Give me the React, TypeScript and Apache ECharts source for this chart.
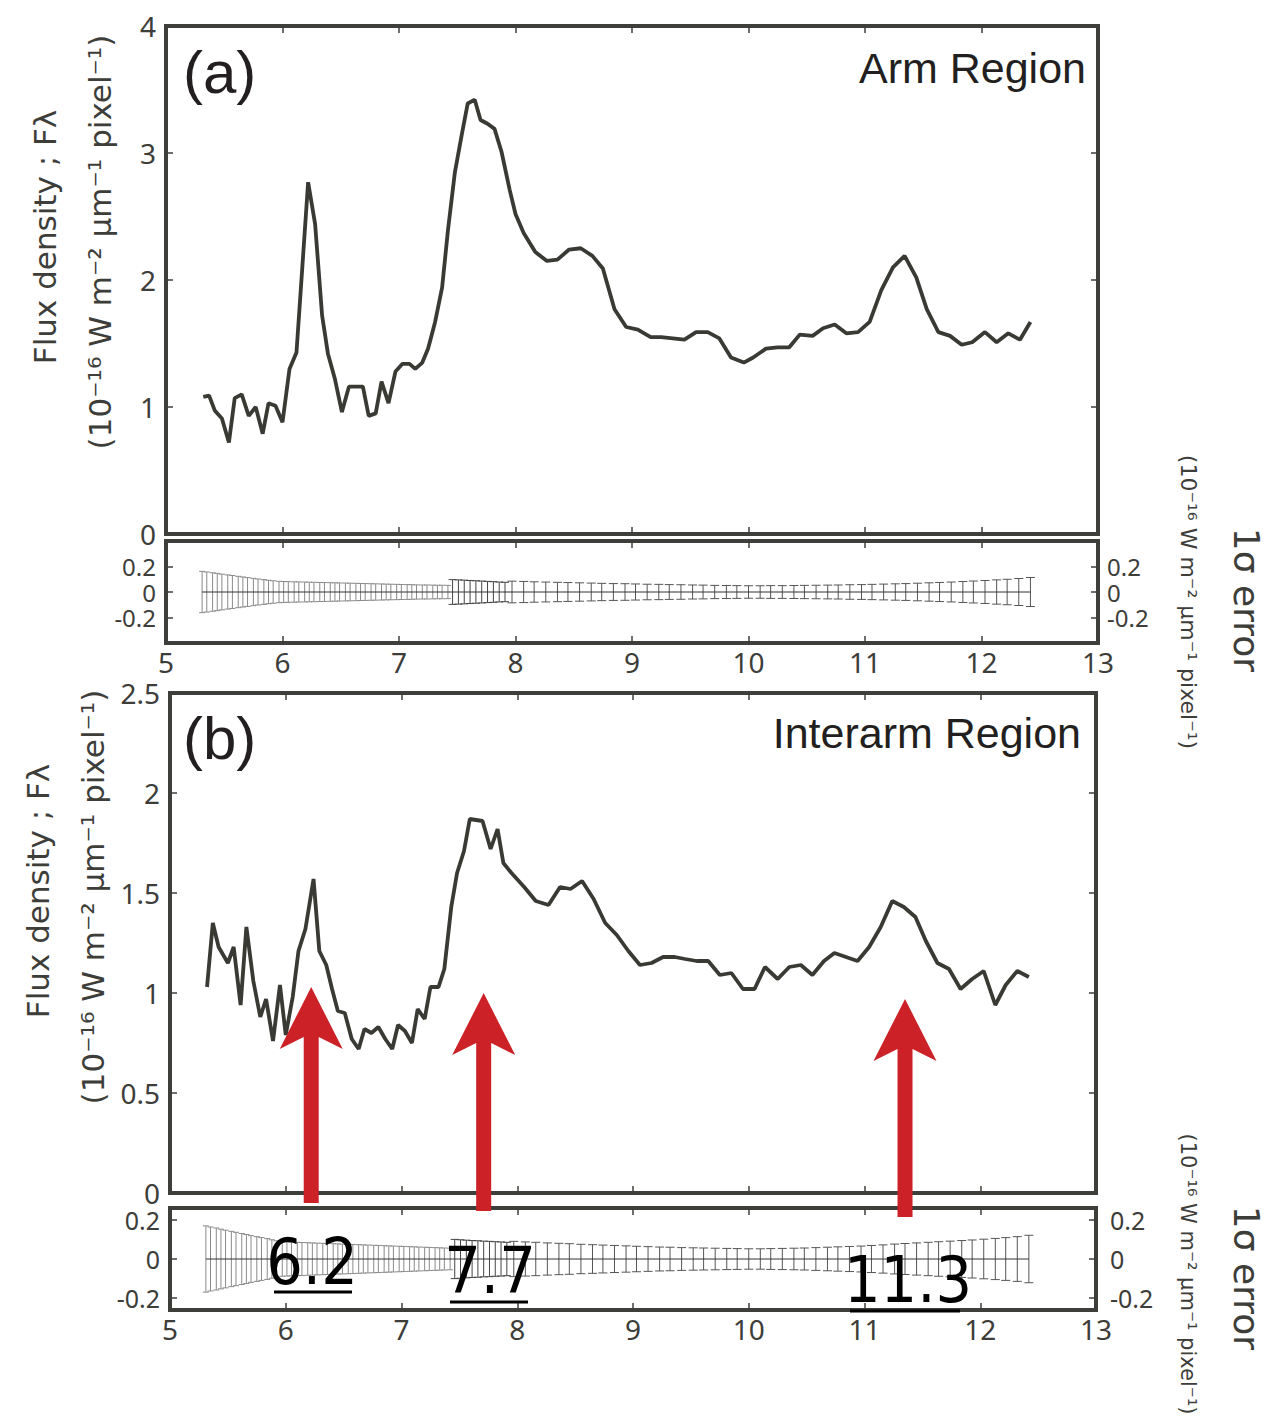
import React, { useEffect, useRef } from "react";
import * as echarts from "echarts";

// ---------- Data ----------
const armX = [5.32, 5.37, 5.42, 5.48, 5.54, 5.59, 5.65, 5.71, 5.77, 5.83, 5.88, 5.94, 6.0, 6.06, 6.12, 6.17, 6.22, 6.28, 6.34, 6.39, 6.45, 6.51, 6.57, 6.63, 6.69, 6.74, 6.8, 6.85, 6.91, 6.97, 7.03, 7.09, 7.14, 7.2, 7.25, 7.31, 7.37, 7.42, 7.48, 7.54, 7.59, 7.65, 7.7, 7.76, 7.82, 7.88, 7.95, 8.0, 8.07, 8.17, 8.27, 8.36, 8.46, 8.56, 8.66, 8.75, 8.85, 8.95, 9.05, 9.16, 9.25, 9.35, 9.45, 9.55, 9.65, 9.75, 9.85, 9.96, 10.04, 10.15, 10.25, 10.35, 10.44, 10.55, 10.64, 10.74, 10.84, 10.94, 11.04, 11.14, 11.24, 11.34, 11.44, 11.53, 11.63, 11.73, 11.83, 11.92, 12.03, 12.13, 12.23, 12.33, 12.42];
const armY = [1.08, 1.09, 0.97, 0.91, 0.72, 1.07, 1.1, 0.93, 1.0, 0.79, 1.03, 1.01, 0.88, 1.3, 1.43, 2.1, 2.77, 2.44, 1.72, 1.42, 1.22, 0.96, 1.16, 1.16, 1.16, 0.93, 0.95, 1.2, 1.03, 1.28, 1.34, 1.34, 1.3, 1.35, 1.46, 1.67, 1.94, 2.39, 2.85, 3.15, 3.39, 3.42, 3.26, 3.23, 3.19, 3.01, 2.71, 2.52, 2.37, 2.22, 2.15, 2.16, 2.24, 2.25, 2.19, 2.09, 1.77, 1.63, 1.61, 1.55, 1.55, 1.54, 1.53, 1.59, 1.59, 1.54, 1.39, 1.35, 1.39, 1.46, 1.47, 1.47, 1.57, 1.56, 1.62, 1.65, 1.58, 1.59, 1.67, 1.92, 2.1, 2.19, 2.02, 1.77, 1.59, 1.56, 1.49, 1.51, 1.59, 1.51, 1.58, 1.53, 1.67];

const interX = [5.32, 5.37, 5.42, 5.5, 5.55, 5.61, 5.66, 5.72, 5.78, 5.83, 5.89, 5.95, 6.0, 6.06, 6.11, 6.17, 6.24, 6.29, 6.35, 6.4, 6.45, 6.51, 6.57, 6.63, 6.68, 6.74, 6.8, 6.86, 6.92, 6.97, 7.03, 7.09, 7.14, 7.2, 7.25, 7.32, 7.37, 7.43, 7.48, 7.54, 7.59, 7.7, 7.77, 7.83, 7.88, 7.95, 8.06, 8.16, 8.27, 8.37, 8.46, 8.56, 8.66, 8.76, 8.86, 8.96, 9.06, 9.16, 9.26, 9.36, 9.45, 9.55, 9.65, 9.75, 9.85, 9.95, 10.05, 10.14, 10.25, 10.35, 10.45, 10.55, 10.65, 10.74, 10.84, 10.94, 11.04, 11.14, 11.24, 11.34, 11.44, 11.53, 11.63, 11.73, 11.83, 11.93, 12.03, 12.13, 12.22, 12.32, 12.42];
const interY = [1.03, 1.35, 1.23, 1.15, 1.23, 0.94, 1.33, 1.06, 0.88, 0.97, 0.76, 1.04, 0.79, 0.98, 1.21, 1.32, 1.57, 1.21, 1.14, 1.02, 0.91, 0.9, 0.77, 0.72, 0.82, 0.8, 0.83, 0.77, 0.72, 0.84, 0.81, 0.75, 0.92, 0.87, 1.03, 1.03, 1.12, 1.43, 1.6, 1.71, 1.87, 1.86, 1.72, 1.82, 1.65, 1.6, 1.53, 1.46, 1.44, 1.53, 1.52, 1.56, 1.47, 1.35, 1.29, 1.21, 1.14, 1.15, 1.18, 1.18, 1.17, 1.16, 1.16, 1.09, 1.1, 1.02, 1.02, 1.13, 1.07, 1.13, 1.14, 1.09, 1.16, 1.2, 1.18, 1.16, 1.23, 1.33, 1.46, 1.43, 1.38, 1.26, 1.15, 1.12, 1.02, 1.07, 1.11, 0.94, 1.04, 1.11, 1.08];

// error bars: short-wavelength dense group, middle group, long-wavelength group
const errDenseX = [5.31, 5.35, 5.4, 5.44, 5.48, 5.53, 5.57, 5.62, 5.66, 5.7, 5.75, 5.79, 5.84, 5.88, 5.92, 5.97, 6.01, 6.05, 6.1, 6.14, 6.19, 6.23, 6.27, 6.32, 6.36, 6.41, 6.45, 6.49, 6.54, 6.58, 6.63, 6.67, 6.71, 6.76, 6.8, 6.85, 6.89, 6.93, 6.98, 7.02, 7.07, 7.11, 7.15, 7.2, 7.24, 7.29, 7.33, 7.37, 7.42];
const errArmDense = [0.162, 0.157, 0.151, 0.146, 0.14, 0.134, 0.129, 0.123, 0.118, 0.113, 0.107, 0.102, 0.097, 0.092, 0.088, 0.084, 0.082, 0.081, 0.08, 0.079, 0.078, 0.077, 0.076, 0.075, 0.074, 0.073, 0.072, 0.071, 0.07, 0.069, 0.068, 0.067, 0.066, 0.065, 0.064, 0.063, 0.062, 0.061, 0.06, 0.059, 0.058, 0.057, 0.056, 0.055, 0.055, 0.054, 0.053, 0.053, 0.052];
const errInterDense = [0.169, 0.163, 0.158, 0.152, 0.147, 0.141, 0.136, 0.13, 0.125, 0.119, 0.114, 0.109, 0.104, 0.098, 0.093, 0.088, 0.087, 0.086, 0.085, 0.084, 0.083, 0.082, 0.081, 0.08, 0.079, 0.078, 0.077, 0.076, 0.075, 0.074, 0.073, 0.072, 0.071, 0.07, 0.069, 0.068, 0.067, 0.066, 0.065, 0.064, 0.063, 0.062, 0.061, 0.06, 0.059, 0.058, 0.057, 0.056, 0.055];

const errMidX = [7.46, 7.51, 7.56, 7.61, 7.66, 7.71, 7.76, 7.81, 7.86, 7.91];
const errArmMid = [0.097, 0.095, 0.093, 0.09, 0.088, 0.086, 0.083, 0.081, 0.078, 0.076];
const errInterMid = [0.1, 0.098, 0.096, 0.094, 0.093, 0.091, 0.09, 0.088, 0.087, 0.085];

const errLongX = [7.97, 8.07, 8.16, 8.26, 8.36, 8.45, 8.55, 8.65, 8.74, 8.84, 8.94, 9.03, 9.13, 9.23, 9.32, 9.42, 9.52, 9.61, 9.71, 9.81, 9.9, 10.0, 10.1, 10.19, 10.29, 10.39, 10.48, 10.58, 10.68, 10.77, 10.87, 10.97, 11.06, 11.16, 11.26, 11.35, 11.45, 11.55, 11.64, 11.74, 11.84, 11.93, 12.03, 12.13, 12.22, 12.32, 12.42];
const errArmLong = [0.085, 0.083, 0.08, 0.078, 0.076, 0.074, 0.072, 0.07, 0.068, 0.066, 0.065, 0.063, 0.061, 0.06, 0.058, 0.057, 0.055, 0.054, 0.052, 0.051, 0.05, 0.049, 0.049, 0.05, 0.05, 0.051, 0.052, 0.053, 0.054, 0.055, 0.057, 0.058, 0.06, 0.062, 0.064, 0.066, 0.069, 0.072, 0.075, 0.078, 0.082, 0.086, 0.09, 0.095, 0.1, 0.106, 0.114];
const errInterLong = [0.09, 0.087, 0.085, 0.082, 0.08, 0.078, 0.075, 0.073, 0.071, 0.069, 0.067, 0.065, 0.063, 0.061, 0.06, 0.058, 0.057, 0.056, 0.055, 0.054, 0.053, 0.052, 0.052, 0.053, 0.054, 0.055, 0.056, 0.058, 0.06, 0.062, 0.064, 0.066, 0.069, 0.072, 0.076, 0.079, 0.082, 0.085, 0.088, 0.091, 0.094, 0.097, 0.101, 0.105, 0.109, 0.114, 0.121];

// PAH feature arrows (wavelength, tip flux, base flux) and labels
const featureX = [6.22, 7.71, 11.35];
const featureTip = [1.03, 1.0, 0.97];
const featureBase = [-0.05, -0.09, -0.12];
const featureLabels = ["6.2", "7.7", "11.3"];

const errTicks = [-0.2, 0, 0.2];

// ---------- Styles ----------
const FRAME = "#3e3f3a";
const LINE = "#393a34";
const LABEL = "#3d3d3a";
const RED = "#cb2127";
const numFont = "'Noto Sans', 'DejaVu Sans', sans-serif";
const titleFont = "'DejaVu Sans', 'Noto Sans', sans-serif";
const helv = "'Liberation Sans', Arial, sans-serif";

const tick = { show: true, inside: true, length: 7, lineStyle: { color: FRAME, width: 1.5 } };
const noLine = { show: false, onZero: false };

function xAxes(grid: number, labels: boolean) {
  return [
    {
      type: "value", gridIndex: grid, min: 5, max: 13, interval: 1, position: "bottom",
      axisLine: noLine, axisTick: tick, splitLine: { show: false },
      axisLabel: { show: labels, fontSize: 28, color: LABEL, margin: 5, fontFamily: numFont },
    },
    {
      type: "value", gridIndex: grid, min: 5, max: 13, interval: 1, position: "top",
      axisLine: noLine, axisTick: tick, splitLine: { show: false },
      axisLabel: { show: false },
    },
  ];
}

function mainY(grid: number, max: number, interval: number) {
  return [
    {
      type: "value", gridIndex: grid, min: 0, max, interval, position: "left",
      axisLine: noLine, axisTick: tick, splitLine: { show: false },
      axisLabel: { fontSize: 28, lineHeight: 22, color: LABEL, margin: 10, fontFamily: numFont },
    },
    {
      type: "value", gridIndex: grid, min: 0, max, interval, position: "right",
      axisLine: noLine, axisTick: tick, splitLine: { show: false },
      axisLabel: { show: false },
    },
  ];
}

function errY(grid: number, lim: number, size: number, rightMargin: number) {
  const common = {
    type: "value", gridIndex: grid, min: -lim, max: lim,
    axisLine: noLine, splitLine: { show: false },
    axisTick: { ...tick, customValues: errTicks },
  };
  const lbl = { customValues: errTicks, fontSize: size, lineHeight: 18, color: LABEL, fontFamily: numFont, hideOverlap: false };
  return [
    { ...common, position: "left", axisLabel: { ...lbl, margin: 10 } },
    { ...common, position: "right", axisLabel: { ...lbl, margin: rightMargin } },
  ];
}

function errSeries(xs: number[], es: number[], xi: number, yi: number, color: string, cap: number) {
  return {
    type: "custom", xAxisIndex: xi, yAxisIndex: yi, z: 3, silent: true,
    data: xs.map((x, i) => [x, es[i]]),
    renderItem: (_p: any, api: any) => {
      const x = api.value(0);
      const e = api.value(1);
      const t = api.coord([x, e]);
      const b = api.coord([x, -e]);
      const st = { stroke: color, lineWidth: 1, fill: null };
      return {
        type: "group",
        children: [
          { type: "line", shape: { x1: t[0], y1: t[1], x2: b[0], y2: b[1] }, style: st },
          { type: "line", shape: { x1: t[0] - cap, y1: t[1], x2: t[0] + cap, y2: t[1] }, style: st },
          { type: "line", shape: { x1: b[0] - cap, y1: b[1], x2: b[0] + cap, y2: b[1] }, style: st },
        ],
      };
    },
  };
}

function zeroLine(xi: number, yi: number) {
  const x0 = errDenseX[0];
  const x1 = errLongX[errLongX.length - 1];
  return {
    type: "line", xAxisIndex: xi, yAxisIndex: yi, showSymbol: false, silent: true, z: 4,
    lineStyle: { color: "#333", width: 1 },
    data: [[x0, 0], [x1, 0]],
  };
}

function vtext(x: number, y: number, text: string, size: number, rot: number, font = titleFont) {
  return {
    type: "text", x, y, rotation: rot, z: 100,
    style: { text, fontSize: size, fontFamily: font, fill: LABEL, textAlign: "center", textVerticalAlign: "middle" },
  };
}

function buildOption() {
  const unitText = "(10\u207B\u00B9\u2076 W m\u207B\u00B2 \u00B5m\u207B\u00B9 pixel\u207B\u00B9)";
  const fluxText = "Flux density ; F\u03BB";
  const errText = "1\u03C3 error";

  const labelPos = [
    { cx: 312, cy: 1262, ux1: 274, ux2: 352, uy: 1292 },
    { cx: 490, cy: 1271, ux1: 450, ux2: 528, uy: 1302 },
    { cx: 908, cy: 1280, ux1: 850, ux2: 960, uy: 1311 },
  ];

  const graphics: any[] = [
    // left titles
    vtext(45, 237, fluxText, 31, Math.PI / 2),
    vtext(100, 242, unitText, 31, Math.PI / 2),
    vtext(38, 891, fluxText, 31, Math.PI / 2),
    vtext(93, 897, unitText, 31, Math.PI / 2),
    // right titles
    vtext(1246, 600, errText, 36, -Math.PI / 2),
    vtext(1188, 602, unitText, 22, -Math.PI / 2),
    vtext(1246, 1278, errText, 36, -Math.PI / 2),
    vtext(1188, 1274, unitText, 21, -Math.PI / 2),
    // panel labels
    { type: "text", x: 183, y: 72, z: 100, style: { text: "(a)", fontSize: 60, fontFamily: helv, fill: "#231f20", textAlign: "left", textVerticalAlign: "middle" } },
    { type: "text", x: 1086, y: 68, z: 100, style: { text: "Arm Region", fontSize: 43, fontFamily: helv, fill: "#231f20", textAlign: "right", textVerticalAlign: "middle" } },
    { type: "text", x: 183, y: 738, z: 100, style: { text: "(b)", fontSize: 60, fontFamily: helv, fill: "#231f20", textAlign: "left", textVerticalAlign: "middle" } },
    { type: "text", x: 1081, y: 733, z: 100, style: { text: "Interarm Region", fontSize: 43, fontFamily: helv, fill: "#231f20", textAlign: "right", textVerticalAlign: "middle" } },
  ];
  featureLabels.forEach((t, i) => {
    const p = labelPos[i];
    graphics.push({
      type: "text", x: p.cx, y: p.cy, z: 100,
      style: { text: t, fontSize: 64, lineHeight: 48, fontFamily: "'Liberation Sans Narrow', 'DejaVu Sans Condensed', sans-serif", fill: "#000", textAlign: "center", textVerticalAlign: "middle" },
    });
    graphics.push({
      type: "line", z: 100, shape: { x1: p.ux1, y1: p.uy, x2: p.ux2, y2: p.uy },
      style: { stroke: "#000", lineWidth: 3 },
    });
  });

  const gridStyle = { show: true, borderColor: FRAME, borderWidth: 4, backgroundColor: "transparent" };

  return {
    animation: false,
    grid: [
      { left: 166, top: 26, width: 932, height: 508, ...gridStyle },
      { left: 166, top: 541, width: 932, height: 102, ...gridStyle },
      { left: 170, top: 693, width: 926, height: 500, ...gridStyle },
      { left: 170, top: 1208, width: 926, height: 102, ...gridStyle },
    ],
    xAxis: [...xAxes(0, false), ...xAxes(1, true), ...xAxes(2, false), ...xAxes(3, true)],
    yAxis: [...mainY(0, 4, 1), ...errY(1, 0.4, 24, 9), ...mainY(2, 2.5, 0.5), ...errY(3, 0.26, 25, 14)],
    graphic: graphics,
    series: [
      {
        type: "line", xAxisIndex: 0, yAxisIndex: 0, showSymbol: false, silent: true, z: 5,
        lineStyle: { color: LINE, width: 3.8 },
        data: armX.map((x, i) => [x, armY[i]]),
      },
      {
        type: "line", xAxisIndex: 4, yAxisIndex: 4, showSymbol: false, silent: true, z: 5,
        lineStyle: { color: LINE, width: 3.8 },
        data: interX.map((x, i) => [x, interY[i]]),
      },
      errSeries(errDenseX, errArmDense, 2, 2, "#8a8a8a", 3),
      errSeries(errMidX, errArmMid, 2, 2, "#444", 4),
      errSeries(errLongX, errArmLong, 2, 2, "#555", 4.5),
      zeroLine(2, 2),
      errSeries(errDenseX, errInterDense, 6, 6, "#8a8a8a", 3),
      errSeries(errMidX, errInterMid, 6, 6, "#444", 4),
      errSeries(errLongX, errInterLong, 6, 6, "#555", 4.5),
      zeroLine(6, 6),
      {
        type: "custom", xAxisIndex: 4, yAxisIndex: 4, clip: false, z: 20, silent: true,
        data: featureX.map((x, i) => [x, featureTip[i], featureBase[i]]),
        renderItem: (_p: any, api: any) => {
          const tip = api.coord([api.value(0), api.value(1)]);
          const base = api.coord([api.value(0), api.value(2)]);
          const x = tip[0];
          const y = tip[1];
          const hw = 31.5, hl = 62, notch = 50, sw = 7.5;
          return {
            type: "polygon",
            shape: {
              points: [
                [x, y], [x + hw, y + hl], [x + sw, y + notch], [x + sw, base[1]],
                [x - sw, base[1]], [x - sw, y + notch], [x - hw, y + hl],
              ],
            },
            style: { fill: RED },
          };
        },
      },
    ],
  };
}

export default function App() {
  const ref = useRef<HTMLDivElement>(null);
  useEffect(() => {
    document.body.style.margin = "0";
    const chart = echarts.init(ref.current as HTMLDivElement, null, { renderer: "svg" });
    chart.setOption(buildOption() as any);
    return () => chart.dispose();
  }, []);
  return <div ref={ref} style={{ width: 1286, height: 1421 }} />;
}
